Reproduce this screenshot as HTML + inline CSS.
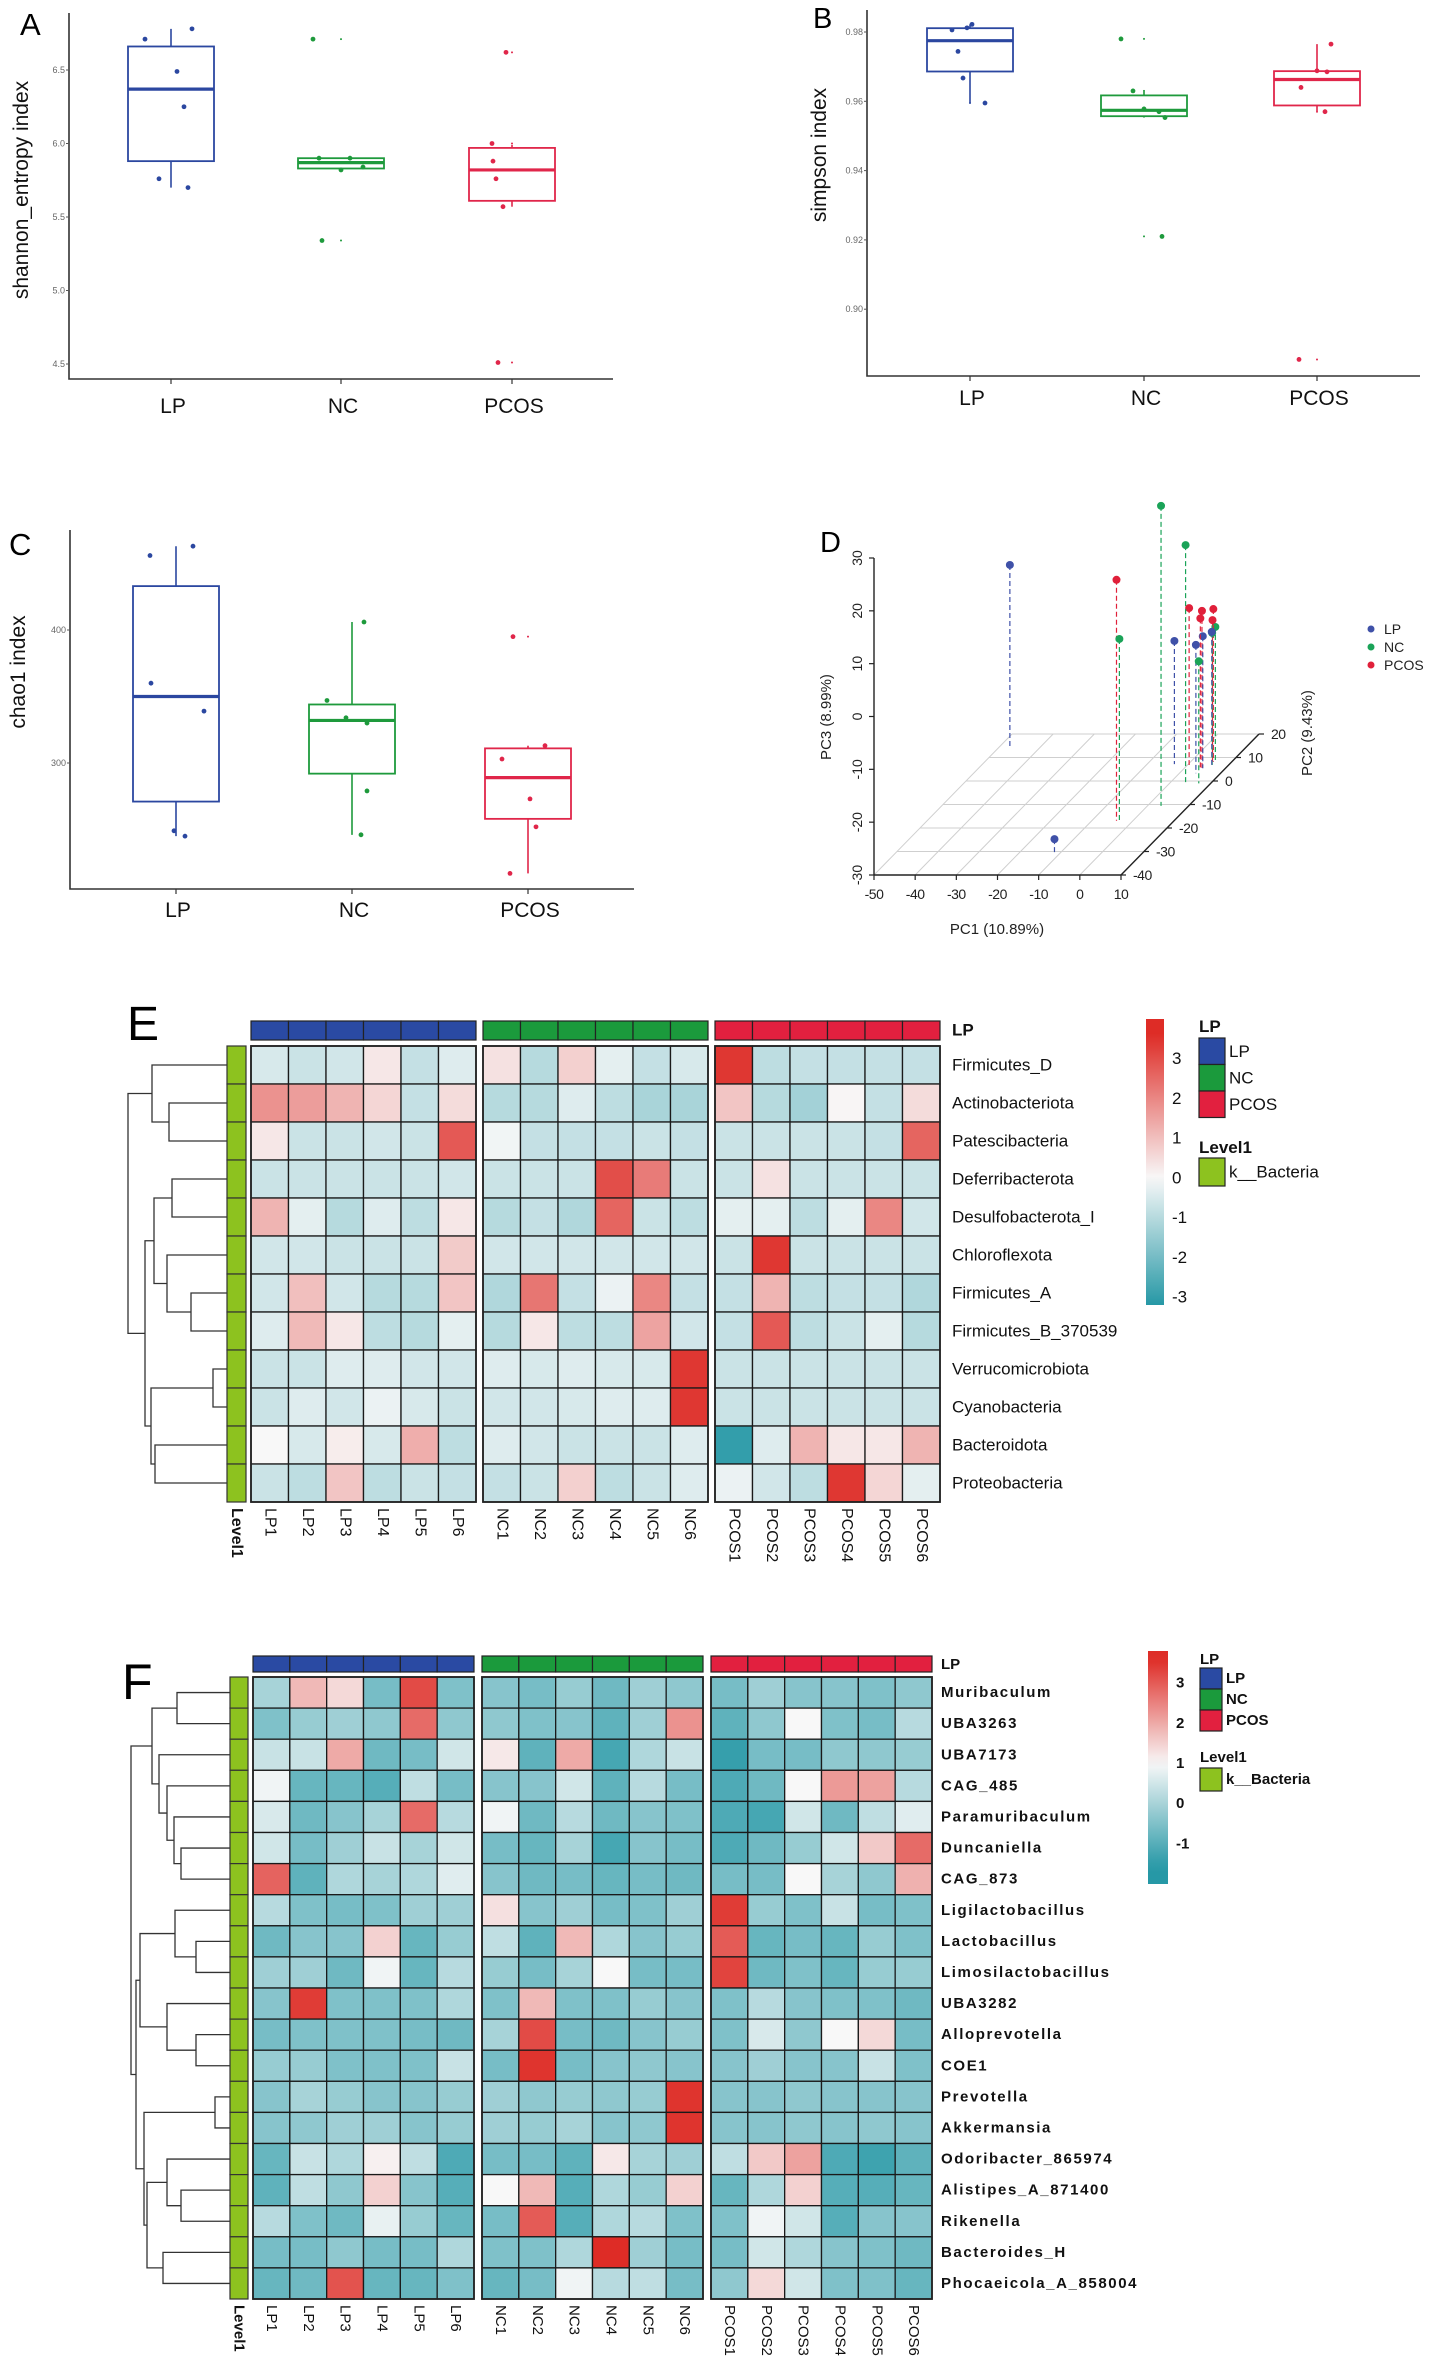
<!DOCTYPE html>
<html><head><meta charset="utf-8"><title>Microbiome diversity figure</title>
<style>
html,body{margin:0;padding:0;background:#fff;}
svg{display:block;font-family:"Liberation Sans",Arial,sans-serif;}
</style></head>
<body>
<svg id="fig" width="1430" height="2365" viewBox="0 0 1430 2365" xmlns="http://www.w3.org/2000/svg"></svg>
<script>
// ---------------- DATA ----------------
const groups = ['LP','NC','PCOS'];
// Panel A: shannon
const shannonQ1 = [5.88, 5.83, 5.61];
const shannonMed = [6.37, 5.87, 5.82];
const shannonQ3 = [6.66, 5.90, 5.97];
const shannonLo = [5.70, 5.82, 5.57];
const shannonHi = [6.78, 5.90, 5.99];
const shannonPts = [[6.71,6.78,6.49,6.25,5.76,5.70],[6.71,5.90,5.90,5.82,5.84,5.34],[6.62,6.00,5.88,5.76,5.57,4.51]];
const shannonJit = [[-26,21,6,13,-12,17],[-28,-22,9,0,22,-19],[-6,-20,-19,-16,-9,-14]];
const shannonTicks = [4.5,5.0,5.5,6.0,6.5];
// Panel B: simpson
const simpsonQ1 = [0.9686, 0.9557, 0.9588];
const simpsonMed = [0.9775, 0.9574, 0.9663];
const simpsonQ3 = [0.9811, 0.9617, 0.9687];
const simpsonLo = [0.9596, 0.9553, 0.9572];
const simpsonHi = [0.9822, 0.9628, 0.9765];
const simpsonPts = [[0.9806,0.9812,0.9822,0.9744,0.9667,0.9595],[0.978,0.9630,0.9578,0.9570,0.9553,0.921],[0.9765,0.9640,0.9685,0.9570,0.9688,0.8855]];
const simpsonJit = [[-18,-3,2,-12,-7,15],[-23,-11,0,15,21,18],[14,-16,10,8,0,-18]];
const simpsonTicks = [0.90,0.92,0.94,0.96,0.98];
// Panel C: chao1
const chaoQ1 = [271, 292, 258];
const chaoMed = [350, 332, 289];
const chaoQ3 = [433, 344, 311];
const chaoLo = [245, 246, 217];
const chaoHi = [463, 406, 313];
const chaoPts = [[456,463,360,339,249,245],[406,347,334,330,279,246],[395,303,313,273,252,217]];
const chaoJit = [[-26,17,-25,28,-2,9],[12,-25,-6,15,15,9],[-15,-26,17,2,8,-18]];
const chaoTicks = [300,400];
// Panel D: PCoA 3D
const pcGroup = [0,0,2,1,1,1,0,2,0,1,2,2,0,2,2,1,1,0];
const pc1 = [-47.5,-11.3,-4.0,-3.3,3.3,3.9,-3.4,0.4,4.0,7.1,4.3,4.3,4.5,5.5,5.3,6.0,5.6,5.9];
const pc2 = [14.6,-30.8,-16.9,-16.9,-10.6,-1.0,7.2,6.8,3.3,-1.0,4.7,5.4,5.4,8.2,8.2,6.8,8.9,6.8];
const pc3 = [4.4,-27.3,15.6,4.4,26.8,15.1,-6.7,-0.3,-5.7,-6.9,-1.3,-0.2,-5.0,-1.1,-3.2,-5.0,-4.8,-4.8];
const pc1Ticks = [-50,-40,-30,-20,-10,0,10];
const pc2Ticks = [-40,-30,-20,-10,0,10,20];
const pc3Ticks = [-30,-20,-10,0,10,20,30];
// Panel E heatmap
const eRows = ['Firmicutes_D','Actinobacteriota','Patescibacteria','Deferribacterota','Desulfobacterota_I','Chloroflexota','Firmicutes_A','Firmicutes_B_370539','Verrucomicrobiota','Cyanobacteria','Bacteroidota','Proteobacteria'];
const sampleCols = ['LP1','LP2','LP3','LP4','LP5','LP6','NC1','NC2','NC3','NC4','NC5','NC6','PCOS1','PCOS2','PCOS3','PCOS4','PCOS5','PCOS6'];
const eVals = [
 [-0.5,-0.7,-0.6,0.3,-0.8,-0.4, 0.4,-1.0,0.7,-0.3,-0.8,-0.5, 3.4,-0.9,-0.8,-0.8,-0.8,-0.8],
 [1.8,1.6,1.2,0.6,-0.8,0.5, -1.0,-1.0,-0.4,-0.9,-1.2,-1.2, 0.9,-1.0,-1.3,0.05,-0.8,0.5],
 [0.3,-0.7,-0.7,-0.6,-0.7,2.8, -0.1,-0.8,-0.8,-0.8,-0.7,-0.8, -0.7,-0.7,-0.7,-0.7,-0.8,2.6],
 [-0.7,-0.7,-0.7,-0.7,-0.7,-0.6, -0.7,-0.7,-0.7,3.0,2.2,-0.7, -0.7,0.4,-0.7,-0.7,-0.7,-0.7],
 [1.2,-0.3,-1.0,-0.4,-0.9,0.3, -1.0,-0.8,-1.1,2.6,-0.7,-0.9, -0.3,-0.3,-0.9,-0.3,2.0,-0.6],
 [-0.6,-0.6,-0.7,-0.7,-0.7,0.8, -0.6,-0.6,-0.6,-0.6,-0.6,-0.6, -0.7,3.4,-0.7,-0.7,-0.7,-0.7],
 [-0.6,1.0,-0.6,-1.0,-1.0,0.9, -1.1,2.3,-0.8,-0.2,2.0,-0.8, -0.8,1.2,-0.9,-0.8,-0.8,-1.1],
 [-0.4,1.1,0.3,-0.9,-1.0,-0.3, -1.0,0.3,-0.9,-0.9,1.5,-0.6, -0.8,2.8,-0.9,-0.7,-0.3,-1.0],
 [-0.7,-0.7,-0.4,-0.4,-0.6,-0.6, -0.4,-0.5,-0.4,-0.5,-0.5,3.4, -0.7,-0.7,-0.7,-0.7,-0.7,-0.7],
 [-0.7,-0.4,-0.6,-0.2,-0.5,-0.7, -0.6,-0.6,-0.5,-0.4,-0.4,3.4, -0.7,-0.7,-0.7,-0.7,-0.7,-0.7],
 [0.0,-0.5,0.2,-0.5,1.3,-0.9, -0.4,-0.6,-0.7,-0.7,-0.7,-0.4, -3.0,-0.4,1.2,0.3,0.3,1.2],
 [-0.7,-0.9,0.9,-0.9,-0.7,-0.8, -0.8,-0.7,0.7,-0.9,-0.7,-0.4, -0.2,-0.6,-0.9,3.4,0.6,-0.3]
];
const eScaleTicks = [3,2,1,0,-1,-2,-3];
// Panel F heatmap
const fRows = ['Muribaculum','UBA3263','UBA7173','CAG_485','Paramuribaculum','Duncaniella','CAG_873','Ligilactobacillus','Lactobacillus','Limosilactobacillus','UBA3282','Alloprevotella','COE1','Prevotella','Akkermansia','Odoribacter_865974','Alistipes_A_871400','Rikenella','Bacteroides_H','Phocaeicola_A_858004'];
const fVals = [
 [0.0,1.8,1.4,-0.6,3.2,-0.5, -0.4,-0.6,-0.2,-0.7,-0.1,-0.3, -0.6,-0.1,-0.4,-0.4,-0.5,-0.3],
 [-0.5,-0.2,-0.1,-0.3,2.8,-0.3, -0.3,-0.5,-0.4,-0.9,-0.1,2.3, -0.9,-0.3,1.0,-0.5,-0.6,0.2],
 [0.4,0.4,2.0,-0.7,-0.6,0.5, 1.2,-0.9,2.0,-1.2,0.1,0.4, -1.4,-0.6,-0.6,-0.3,-0.3,-0.2],
 [0.9,-0.8,-0.8,-1.0,0.3,-0.6, -0.4,-0.4,0.5,-0.9,0.2,-0.6, -1.1,-0.7,1.0,2.2,2.1,0.2],
 [0.6,-0.7,-0.4,0.0,2.8,0.2, 0.9,-0.7,0.2,-0.7,-0.4,-0.5, -1.1,-1.2,0.5,-0.7,0.3,0.7],
 [0.5,-0.6,-0.1,0.4,0.0,0.5, -0.6,-0.8,0.0,-1.2,-0.4,-0.6, -1.1,-0.7,-0.2,0.5,1.6,2.8],
 [2.9,-0.9,0.1,0.0,0.1,0.7, -0.4,-0.7,-0.6,-0.8,-0.6,-0.7, -0.6,-0.6,1.0,0.0,-0.3,1.9],
 [0.2,-0.5,-0.6,-0.5,-0.1,-0.1, 1.3,-0.4,-0.1,-0.6,-0.5,-0.1, 3.4,-0.2,-0.5,0.4,-0.6,-0.5],
 [-0.7,-0.4,-0.4,1.5,-0.8,-0.2, 0.3,-0.9,1.8,0.1,-0.4,-0.2, 3.0,-0.8,-0.6,-0.8,-0.2,-0.5],
 [-0.1,-0.1,-0.7,0.9,-0.8,0.2, -0.2,-0.6,0.0,1.0,-0.6,-0.6, 3.3,-0.7,-0.5,-0.8,-0.2,-0.2],
 [-0.4,3.4,-0.5,-0.5,-0.5,0.1, -0.5,1.8,-0.5,-0.5,-0.2,-0.4, -0.5,0.2,-0.4,-0.5,-0.5,-0.7],
 [-0.6,-0.5,-0.5,-0.5,-0.6,-0.7, 0.0,3.2,-0.6,-0.7,-0.4,-0.2, -0.5,0.6,-0.3,1.0,1.4,-0.6],
 [-0.2,-0.2,-0.5,-0.5,-0.5,0.4, -0.6,3.5,-0.6,-0.4,-0.3,-0.4, -0.4,-0.1,-0.4,-0.4,0.4,-0.5],
 [-0.4,0.0,-0.2,-0.4,-0.4,-0.2, -0.1,-0.3,-0.2,-0.3,-0.2,3.5, -0.4,-0.4,-0.3,-0.4,-0.4,-0.4],
 [-0.4,-0.3,-0.1,-0.1,-0.4,-0.2, -0.1,-0.2,0.0,-0.4,-0.3,3.5, -0.4,-0.4,-0.3,-0.4,-0.3,-0.4],
 [-0.8,0.4,0.1,1.1,0.3,-1.1, -0.6,-0.6,-0.9,1.2,0.0,-0.1, 0.3,1.6,2.1,-1.1,-1.3,-0.9],
 [-0.9,0.3,-0.3,1.5,-0.4,-1.0, 1.0,1.8,-1.0,0.1,-0.2,1.5, -0.8,0.1,1.5,-1.0,-1.0,-0.8],
 [0.2,-0.5,-0.7,0.8,-0.2,-0.8, -0.6,3.0,-1.0,0.1,0.2,-0.5, -0.5,0.9,0.5,-1.0,-0.4,-0.4],
 [-0.6,-0.6,-0.3,-0.6,-0.6,0.1, -0.5,-0.5,0.1,3.6,-0.1,-0.6, -0.6,0.5,0.1,-0.4,-0.5,-0.7],
 [-0.8,-0.7,3.1,-0.8,-0.8,-0.5, -0.8,-0.6,0.9,0.2,0.3,-0.6, -0.3,1.4,0.5,-0.5,-0.5,-0.8]
];
const fScaleTicks = [3,2,1,0,-1];

// ---------------- HELPERS ----------------
const NS = 'http://www.w3.org/2000/svg';
const svg = document.getElementById('fig');
const gColors = ['#2b47a0','#1e9a3c','#e0264a'];
function mk(tag, attrs, parent){
  const e = document.createElementNS(NS, tag);
  for (const k in attrs) e.setAttribute(k, attrs[k]);
  (parent || svg).appendChild(e);
  return e;
}
function tx(str, attrs, parent){ const e = mk('text', attrs, parent); e.textContent = str; return e; }
function grp(name, parent){
  const g = mk('g', {}, parent);
  
  
  return g;
}
function letter(ch, x, y, size, name){
  const t = tx(ch, {x:x, y:y, 'font-size':size, fill:'#000'});
  
  
}

// ---------------- BOX PLOTS ----------------
function boxPanel(cfg){
  const g = grp(cfg.name);
  const y = v => cfg.y0 + (cfg.v0 - v) * cfg.k;
  const ax = mk('path', {d:`M${cfg.ax},${cfg.top} V${cfg.bottom} H${cfg.right}`, stroke:'#333', 'stroke-width':1.6, fill:'none'}, g);
  
  
  cfg.ticks.forEach(t => {
    const tk = mk('line', {x1:cfg.ax-3, x2:cfg.ax, y1:y(t), y2:y(t), stroke:'#555', 'stroke-width':1}, g);
    
    
    const tl = tx(cfg.fmt(t), {x:cfg.ax-4, y:y(t)+3, 'font-size':9, fill:'#666', 'text-anchor':'end'}, g);
    
    
  });
  const yt = tx(cfg.title, {x:0, y:0, 'font-size':21, fill:'#111', 'text-anchor':'middle', transform:`translate(${cfg.titleX},${cfg.titleY}) rotate(-90)`}, g);
  
  
  groups.forEach((gn, i) => {
    const cx = cfg.cx[i], c = gColors[i], hw = 43;
    const xt = mk('line', {x1:cx, x2:cx, y1:cfg.bottom, y2:cfg.bottom+5, stroke:'#333', 'stroke-width':1.2}, g);
    
    
    const xl = tx(gn, {x:cx+2, y:cfg.labY, 'font-size':21, fill:'#111', 'text-anchor':'middle'}, g);
    
    
    const wh = mk('line', {x1:cx, x2:cx, y1:y(cfg.hi[i]), y2:y(cfg.lo[i]), stroke:c, 'stroke-width':1.6}, g);
    
    
    const bx = mk('rect', {x:cx-hw, y:y(cfg.q3[i]), width:hw*2, height:y(cfg.q1[i])-y(cfg.q3[i]), fill:'#fff', stroke:c, 'stroke-width':1.8}, g);
    
    
    const md = mk('line', {x1:cx-hw, x2:cx+hw, y1:y(cfg.med[i]), y2:y(cfg.med[i]), stroke:c, 'stroke-width':3.2}, g);
    
    
    cfg.pts[i].forEach((v, j) => {
      const p = mk('circle', {cx:cx+cfg.jit[i][j], cy:y(v), r:2.4, fill:c}, g);
      
      
      if (v > cfg.hi[i] + 1e-9 || v < cfg.lo[i] - 1e-9){
        const o = mk('circle', {cx:cx, cy:y(v), r:1, fill:c}, g);
        
        
      }
    });
  });
}
boxPanel({name:'panel-a-shannon', ax:69, top:13, bottom:379, right:613, y0:70, v0:6.5, k:147,
  ticks:shannonTicks, fmt:t=>t.toFixed(1), title:'shannon_entropy index', titleX:28, titleY:190,
  cx:[171,341,512], labY:413, q1:shannonQ1, med:shannonMed, q3:shannonQ3, lo:shannonLo, hi:shannonHi, pts:shannonPts, jit:shannonJit});
boxPanel({name:'panel-b-simpson', ax:867, top:10, bottom:376, right:1420, y0:32, v0:0.98, k:3465,
  ticks:simpsonTicks, fmt:t=>t.toFixed(2), title:'simpson index', titleX:826, titleY:155,
  cx:[970,1144,1317], labY:405, q1:simpsonQ1, med:simpsonMed, q3:simpsonQ3, lo:simpsonLo, hi:simpsonHi, pts:simpsonPts, jit:simpsonJit});
boxPanel({name:'panel-c-chao1', ax:70, top:530, bottom:889, right:634, y0:630, v0:400, k:1.33,
  ticks:chaoTicks, fmt:t=>String(t), title:'chao1 index', titleX:25, titleY:672,
  cx:[176,352,528], labY:917, q1:chaoQ1, med:chaoMed, q3:chaoQ3, lo:chaoLo, hi:chaoHi, pts:chaoPts, jit:chaoJit});
letter('A', 20, 35, 31, 'panel-label-a');
letter('B', 813, 28, 29, 'panel-label-b');
letter('C', 9, 555, 31, 'panel-label-c');
letter('D', 820, 552, 29, 'panel-label-d');

// ---------------- 3D PCoA ----------------
(function(){
  const g = grp('panel-d-pcoa');
  const X0 = 874, Y0 = 875, kx = 247/60, kd = 141/60, kdx = 138/60, kz = 317/60;
  const P = (a,b,c) => { const d = (b+40)*kd; return {x: X0 + (a+50)*kx + (b+40)*kdx, y: Y0 - d - (c+30)*kz, fy: Y0 - d}; };
  pc2Ticks.forEach(t => {
    const a = P(-50,t,-30), b = P(10,t,-30);
    const l = mk('line', {x1:a.x, y1:a.y, x2:b.x, y2:b.y, stroke:'#cfcfcf', 'stroke-width':1}, g);
    
    
  });
  pc1Ticks.forEach(t => {
    const a = P(t,-40,-30), b = P(t,20,-30);
    const l = mk('line', {x1:a.x, y1:a.y, x2:b.x, y2:b.y, stroke:'#cfcfcf', 'stroke-width':1}, g);
    
    
  });
  const zTop = P(-50,-40,30), zBot = P(-50,-40,-30), xEnd = P(10,-40,-30), dEnd = P(10,20,-30);
  const za = mk('line', {x1:zBot.x, y1:zBot.y, x2:zTop.x, y2:zTop.y, stroke:'#222', 'stroke-width':1.4}, g);
  
  
  const xa = mk('line', {x1:zBot.x, y1:zBot.y, x2:xEnd.x, y2:xEnd.y, stroke:'#222', 'stroke-width':1.4}, g);
  
  
  const da = mk('line', {x1:xEnd.x, y1:xEnd.y, x2:dEnd.x, y2:dEnd.y, stroke:'#222', 'stroke-width':1.4}, g);
  
  
  pc3Ticks.forEach(t => {
    const p = P(-50,-40,t);
    const l = mk('line', {x1:p.x-5, y1:p.y, x2:p.x, y2:p.y, stroke:'#222', 'stroke-width':1.2}, g);
    
    
    const s = tx(String(t), {x:0, y:0, 'font-size':14, fill:'#222', 'text-anchor':'middle', transform:`translate(${p.x-12},${p.y}) rotate(-90)`}, g);
    
    
  });
  pc1Ticks.forEach(t => {
    const p = P(t,-40,-30);
    const l = mk('line', {x1:p.x, y1:p.y, x2:p.x, y2:p.y+5, stroke:'#222', 'stroke-width':1.2}, g);
    
    
    const s = tx(String(t), {x:p.x, y:p.y+24, 'font-size':14, fill:'#222', 'text-anchor':'middle', 'letter-spacing':'-0.5'}, g);
    
    
  });
  pc2Ticks.forEach(t => {
    const p = P(10,t,-30);
    const l = mk('line', {x1:p.x, y1:p.y, x2:p.x+5, y2:p.y, stroke:'#222', 'stroke-width':1.2}, g);
    
    
    const s = tx(String(t), {x:p.x+12, y:p.y+5, 'font-size':14, fill:'#222', 'letter-spacing':'-0.5'}, g);
    
    
  });
  const t1 = tx('PC1 (10.89%)', {x:997, y:934, 'font-size':15, fill:'#222', 'text-anchor':'middle'}, g);
  
  
  const t3 = tx('PC3 (8.99%)', {x:0, y:0, 'font-size':15, fill:'#222', 'text-anchor':'middle', transform:'translate(831,717) rotate(-90)'}, g);
  
  
  const t2 = tx('PC2 (9.43%)', {x:0, y:0, 'font-size':15, fill:'#222', 'text-anchor':'middle', transform:'translate(1312,733) rotate(-90)'}, g);
  
  
  const order = pc1.map((_, i) => i).sort((a, b) => pc2[b] - pc2[a]);
  order.forEach(i => {
    const p = P(pc1[i], pc2[i], pc3[i]);
    const c = ['#3f51a8','#1aa358','#e0203a'][pcGroup[i]];
    const st = mk('line', {x1:p.x, y1:p.y, x2:p.x, y2:p.fy, stroke:c, 'stroke-width':1.2, 'stroke-dasharray':'5,3'}, g);
    
    
    const pt = mk('circle', {cx:p.x, cy:p.y, r:4, fill:c}, g);
    
    
  });
  groups.forEach((gn, i) => {
    const c = ['#3f51a8','#1aa358','#e0203a'][i];
    const d = mk('circle', {cx:1371, cy:629+i*18, r:3.5, fill:c}, g);
    
    
    const s = tx(gn, {x:1384, y:634+i*18, 'font-size':14, fill:'#222'}, g);
    
    
  });
})();

// ---------------- HEATMAPS ----------------
function colorFn(stops){
  return v => {
    if (v <= stops[0][0]) return `rgb(${stops[0][1].join(',')})`;
    for (let i = 1; i < stops.length; i++){
      if (v <= stops[i][0]){
        const t = (v - stops[i-1][0]) / (stops[i][0] - stops[i-1][0]);
        const c = stops[i-1][1].map((a, k) => Math.round(a + (stops[i][1][k] - a) * t));
        return `rgb(${c.join(',')})`;
      }
    }
    return `rgb(${stops[stops.length-1][1].join(',')})`;
  };
}
function heatmap(cfg){
  const g = grp(cfg.name);
  const col = colorFn(cfg.stops);
  const cw = cfg.blockW / 6;
  const cellX = j => cfg.blockX[Math.floor(j/6)] + (j%6)*cw;
  const rowY = i => cfg.top + i*cfg.rh;
  sampleCols.forEach((s, j) => {
    const r = mk('rect', {x:cellX(j), y:cfg.barTop, width:cw, height:cfg.barH, fill:['#2a4aa3','#1b9a3c','#e2203f'][Math.floor(j/6)], stroke:'#222', 'stroke-width':1.2}, g);
    
    
    const lab = tx(s, {x:0, y:0, 'font-size':cfg.colFont, fill:'#111', 'dominant-baseline':'central', transform:`translate(${cellX(j)+cw/2},${cfg.top + cfg.rows.length*cfg.rh + 6}) rotate(90)`}, g);
    
    
  });
  const lpl = tx('LP', {x:cfg.labX, y:cfg.barTop+cfg.barH/2+5, 'font-size':cfg.rowFont, 'font-weight':'bold', fill:'#111'}, g);
  
  
  const lv = tx('Level1', {x:0, y:0, 'font-size':cfg.colFont, 'font-weight':'bold', fill:'#111', 'dominant-baseline':'central', transform:`translate(${cfg.greenX+cfg.greenW/2},${cfg.top + cfg.rows.length*cfg.rh + 6}) rotate(90)`}, g);
  
  
  cfg.rows.forEach((rn, i) => {
    const gr = mk('rect', {x:cfg.greenX, y:rowY(i), width:cfg.greenW, height:cfg.rh, fill:'#8dc21f', stroke:'#333', 'stroke-width':1.2}, g);
    
    
    cfg.vals[i].forEach((v, j) => {
      const c = mk('rect', {x:cellX(j), y:rowY(i), width:cw, height:cfg.rh, fill:col(v), stroke:'#1a1a1a', 'stroke-width':1.3}, g);
      
      
    });
    const t = tx(rn, {x:cfg.labX, y:rowY(i)+cfg.rh/2, 'font-size':cfg.rowFont, fill:'#111', 'dominant-baseline':'central', 'font-weight':cfg.rowWeight, 'letter-spacing':cfg.rowLS}, g);
    
    
  });
  cfg.blockX.forEach(bx => {
    const o = mk('rect', {x:bx, y:cfg.top, width:cfg.blockW, height:cfg.rows.length*cfg.rh, fill:'none', stroke:'#222', 'stroke-width':1.8}, g);
    
    
  });
  function draw(node){
    if (typeof node === 'number') return {x:cfg.leafX, y:rowY(node)+cfg.rh/2};
    const a = draw(node[0]), b = draw(node[1]), x = node[2];
    const p = mk('path', {d:`M${a.x},${a.y} H${x} V${b.y} H${b.x}`, fill:'none', stroke:'#333', 'stroke-width':1.3}, g);
    
    
    return {x:x, y:(a.y+b.y)/2};
  }
  draw(cfg.tree);
  const gid = cfg.name + '-grad';
  const defs = mk('defs', {}, g);
  const lg = mk('linearGradient', {id:gid, x1:0, y1:0, x2:0, y2:1}, defs);
  for (let s = 0; s <= 20; s++){
    const v = cfg.cbTopV + (cfg.cbBotV - cfg.cbTopV) * s/20;
    mk('stop', {offset:(s/20), 'stop-color':col(v)}, lg);
  }
  const cb = mk('rect', {x:cfg.cbX, y:cfg.cbTop, width:cfg.cbW, height:cfg.cbBot-cfg.cbTop, fill:`url(#${gid})`}, g);
  
  
  const vy = v => cfg.cbTop + (cfg.cbTopV - v)/(cfg.cbTopV - cfg.cbBotV) * (cfg.cbBot - cfg.cbTop);
  cfg.cbTicks.forEach(t => {
    const s = tx(String(t), {x:cfg.cbX+cfg.cbW+8, y:vy(t), 'font-size':cfg.rowFont, fill:'#111', 'dominant-baseline':'central', 'font-weight':cfg.rowWeight}, g);
    
    
  });
  const L = cfg.leg;
  const lt = tx('LP', {x:L.x, y:L.titleY, 'font-size':cfg.rowFont, 'font-weight':'bold', fill:'#111'}, g);
  
  
  groups.forEach((gn, i) => {
    const sw = mk('rect', {x:L.x, y:L.swTop + i*L.swH, width:L.swW, height:L.swH, fill:['#2a4aa3','#1b9a3c','#e2203f'][i], stroke:'#222', 'stroke-width':1.2}, g);
    
    
    const s = tx(gn, {x:L.x+L.swW+4, y:L.swTop + (i+0.5)*L.swH, 'font-size':cfg.rowFont, fill:'#111', 'dominant-baseline':'central', 'font-weight':cfg.rowWeight}, g);
    
    
  });
  const l1 = tx('Level1', {x:L.x, y:L.lvY, 'font-size':cfg.rowFont, 'font-weight':'bold', fill:'#111'}, g);
  
  
  const gs = mk('rect', {x:L.x, y:L.gTop, width:L.swW, height:L.gH, fill:'#8dc21f', stroke:'#222', 'stroke-width':1.2}, g);
  
  
  const kb = tx('k__Bacteria', {x:L.x+L.swW+4, y:L.gTop+L.gH/2, 'font-size':cfg.rowFont, fill:'#111', 'dominant-baseline':'central', 'font-weight':cfg.rowWeight}, g);
  
  
}

heatmap({name:'panel-e-phylum-heatmap', rows:eRows, vals:eVals,
  stops:[[-3.2,[38,152,166]],[0,[248,248,248]],[3.6,[222,44,38]]],
  blockX:[251,483,715], blockW:225, top:1046, rh:38, barTop:1021, barH:19,
  greenX:227, greenW:19, leafX:227, labX:952, rowFont:17, colFont:16, rowWeight:'normal', rowLS:0,
  tree:[[0,[1,2,169],152],[[[3,4,172],[5,[6,7,191],167],154],[[8,9,213],[10,11,155],151],145],128],
  cbX:1146, cbW:18, cbTop:1019, cbBot:1305, cbTopV:4.0, cbBotV:-3.2, cbTicks:eScaleTicks,
  leg:{x:1199, titleY:1032, swTop:1038, swH:26.5, swW:26, lvY:1153, gTop:1158, gH:28}});

heatmap({name:'panel-f-genus-heatmap', rows:fRows, vals:fVals,
  stops:[[-1.6,[38,152,166]],[1.0,[248,248,248]],[3.6,[222,44,38]]],
  blockX:[253,482,711], blockW:221, top:1677, rh:31.1, barTop:1656, barH:16,
  greenX:230, greenW:18, leafX:230, labX:941, rowFont:15, colFont:15, rowWeight:'bold', rowLS:1.6,
  tree:[[[0,1,177],[2,[3,[4,[5,6,181],174],167],159],152],[[[7,[8,9,196],175],[10,[11,12,196],167],140],[[13,14,215],[[15,[16,17,181],167],[18,19,163],147],144],136],131],
  cbX:1148, cbW:20, cbTop:1651, cbBot:1884, cbTopV:3.8, cbBotV:-2.0, cbTicks:fScaleTicks,
  leg:{x:1200, titleY:1664, swTop:1668, swH:21, swW:22, lvY:1762, gTop:1768, gH:23}});

letter('E', 127, 1040, 48, 'panel-label-e');
letter('F', 122, 1699, 50, 'panel-label-f');
</script>
</body></html>
